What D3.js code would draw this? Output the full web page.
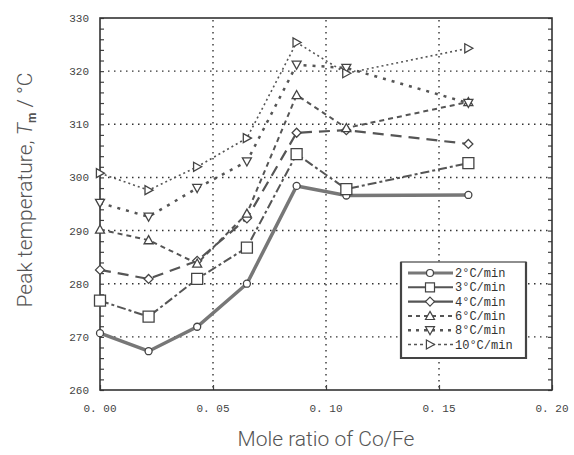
<!DOCTYPE html>
<html>
<head>
<meta charset="utf-8">
<script src="https://cdn.jsdelivr.net/npm/d3@7"></script>
<style>
  body { margin: 0; background: #fff; }
  .tick-label { font-family: 'Liberation Mono', 'DejaVu Sans Mono', monospace; font-size: 11px; fill: #444; }
  .axis-title { font-family: Roboto, 'Liberation Sans', Arial, sans-serif; font-weight: 300; font-size: 21px; fill: #555; }
  .legend-label { font-family: 'Liberation Mono', 'DejaVu Sans Mono', monospace; font-size: 12px; fill: #333; }
</style>
</head>
<body>
<script>
/* global d3 */

let moleRatios = [0, 0.0215, 0.043, 0.065, 0.087, 0.109, 0.163]
let seriesNames = ['2°C/min', '3°C/min', '4°C/min', '6°C/min', '8°C/min', '10°C/min']
let temps2 = [270.7, 267.3, 271.9, 280.0, 298.4, 296.6, 296.7]
let temps3 = [276.8, 273.8, 280.9, 286.8, 304.4, 297.8, 302.7]
let temps4 = [282.6, 280.9, 284.3, 292.3, 308.4, 308.9, 306.3]
let temps6 = [290.2, 288.2, 283.8, 293.2, 315.5, 309.3, 314.2]
let temps8 = [295.2, 292.6, 298.0, 303.0, 321.2, 320.6, 314.0]
let temps10 = [300.8, 297.6, 302.0, 307.4, 325.4, 319.6, 324.3]
let xTicks = [0, 0.05, 0.10, 0.15, 0.20]
let yTicks = [260, 270, 280, 290, 300, 310, 320, 330]

let seriesTemps = [temps2, temps3, temps4, temps6, temps8, temps10]

// drawing style per series (kept apart from the data)
let styles = [
  {marker: 'circle', dash: null, width: 3.5, color: '#777', size: 3.5, legendDash: null},
  {marker: 'square', dash: '9,3,3,3', width: 2, color: '#555', size: 5.5, legendDash: null},
  {marker: 'diamond', dash: '11,7', width: 2.2, color: '#555', size: 4.5, legendDash: null},
  {marker: 'up', dash: '5,4', width: 2, color: '#555', size: 4.5, legendDash: '4,4'},
  {marker: 'down', dash: '3,6', width: 2.5, color: '#555', size: 4.5, legendDash: '3,5'},
  {marker: 'right', dash: '2,3', width: 1.6, color: '#555', size: 4.5, legendDash: '3,3'},
]

let width = 574
let height = 455
let plot = {left: 100, right: 552, top: 18, bottom: 390}

let svg = d3.select('body').append('svg')
  .attr('width', width)
  .attr('height', height)

let x = d3.scaleLinear().domain([0, 0.20]).range([plot.left, plot.right])
let y = d3.scaleLinear().domain([260, 330]).range([plot.bottom, plot.top])

// dotted grid
let grid = svg.append('g').attr('class', 'grid')
grid.selectAll('line.h').data(yTicks.slice(1, -1)).enter()
  .append('line')
  .attr('x1', plot.left + 8).attr('x2', plot.right - 2)
  .attr('y1', d => y(d)).attr('y2', d => y(d))
  .attr('stroke', '#333').attr('stroke-width', 1.4)
  .attr('stroke-dasharray', '1.5,4.5')
grid.selectAll('line.v').data(xTicks.slice(1, -1)).enter()
  .append('line')
  .attr('x1', d => x(d)).attr('x2', d => x(d))
  .attr('y1', plot.top + 2).attr('y2', plot.bottom - 2)
  .attr('stroke', '#333').attr('stroke-width', 1.4)
  .attr('stroke-dasharray', '1.5,4.5')

// axes: left and right with inward minor ticks, bottom with inward major ticks
let minor = d3.range(260, 331, 2)
let leftAxis = d3.axisLeft(y).tickValues(minor).tickSize(-4).tickFormat('')
let rightAxis = d3.axisRight(y).tickValues(minor).tickSize(-4).tickFormat('')
let bottomAxis = d3.axisBottom(x).tickValues(xTicks).tickSize(-5).tickFormat('')
svg.append('g').attr('transform', `translate(${plot.left},0)`).call(leftAxis)
svg.append('g').attr('transform', `translate(${plot.right},0)`).call(rightAxis)
svg.append('g').attr('transform', `translate(0,${plot.bottom})`).call(bottomAxis)
svg.selectAll('.domain').remove()
svg.selectAll('.tick line').attr('stroke', '#444').attr('stroke-width', 1.2)

svg.append('rect')
  .attr('x', plot.left).attr('y', plot.top)
  .attr('width', plot.right - plot.left).attr('height', plot.bottom - plot.top)
  .attr('fill', 'none').attr('stroke', '#333').attr('stroke-width', 1.6)

// tick labels
svg.append('g').selectAll('text').data(yTicks).enter()
  .append('text')
  .attr('class', 'tick-label')
  .attr('x', plot.left - 11).attr('y', d => y(d) + 4)
  .attr('text-anchor', 'end')
  .text(d => d)
svg.append('g').selectAll('text').data(xTicks).enter()
  .append('text')
  .attr('class', 'tick-label')
  .attr('x', d => x(d)).attr('y', plot.bottom + 22)
  .attr('text-anchor', 'middle')
  .text(d => d3.format('.2f')(d).replace('.', '. '))

// axis titles
svg.append('text')
  .attr('class', 'axis-title')
  .attr('x', 326).attr('y', 446)
  .attr('text-anchor', 'middle')
  .text('Mole ratio of Co/Fe')
let yTitle = svg.append('text')
  .attr('class', 'axis-title')
  .attr('transform', 'translate(32,190) rotate(-90)')
  .attr('text-anchor', 'middle')
yTitle.append('tspan').text('Peak temperature, ')
yTitle.append('tspan').attr('font-style', 'italic').text('T')
yTitle.append('tspan').attr('font-size', '12px').attr('dy', 4).attr('font-weight', 'bold').text('m')
yTitle.append('tspan').attr('dy', -4).text(' / °C')

function markerPath (type, s) {
  if (type === 'circle') return d3.symbol(d3.symbolCircle, Math.PI * s * s)()
  if (type === 'square') return `M${-s},${-s}H${s}V${s}H${-s}Z`
  if (type === 'diamond') return `M0,${-s}L${s},0L0,${s}L${-s},0Z`
  if (type === 'up') return `M0,${-s}L${s},${s * 0.8}L${-s},${s * 0.8}Z`
  if (type === 'down') return `M0,${s}L${s},${-s * 0.8}L${-s},${-s * 0.8}Z`
  return `M${s},0L${-s * 0.8},${s}L${-s * 0.8},${-s}Z`
}

let line = d3.line().x(d => x(d.ratio)).y(d => y(d.temp))

seriesTemps.forEach((temps, i) => {
  let st = styles[i]
  let pts = moleRatios.map((r, j) => ({ratio: r, temp: temps[j]}))
  let g = svg.append('g').attr('class', 'series')
  g.append('path')
    .datum(pts)
    .attr('d', line)
    .attr('fill', 'none')
    .attr('stroke', st.color)
    .attr('stroke-width', st.width)
    .attr('stroke-dasharray', st.dash)
  g.selectAll('path.m').data(pts).enter()
    .append('path')
    .attr('d', markerPath(st.marker, st.size))
    .attr('transform', d => `translate(${x(d.ratio)},${y(d.temp)})`)
    .attr('fill', '#fff')
    .attr('stroke', '#444')
    .attr('stroke-width', 1.3)
})

// legend
let legend = svg.append('g').attr('class', 'legend')
legend.append('rect')
  .attr('x', 401).attr('y', 262).attr('width', 125).attr('height', 96)
  .attr('fill', '#fff').attr('stroke', '#444').attr('stroke-width', 1.2)
legend.append('path')
  .attr('d', 'M401,262V358H526V262')
  .attr('fill', 'none').attr('stroke', '#444').attr('stroke-width', 2.2)

seriesNames.forEach((name, i) => {
  let st = styles[i]
  let ly = 273 + i * 14.3
  legend.append('line')
    .attr('x1', 408).attr('x2', 453).attr('y1', ly).attr('y2', ly)
    .attr('stroke', st.color).attr('stroke-width', Math.min(st.width, 3))
    .attr('stroke-dasharray', st.legendDash)
  legend.append('path')
    .attr('d', markerPath(st.marker, Math.min(st.size, 4.5)))
    .attr('transform', `translate(430,${ly})`)
    .attr('fill', '#fff').attr('stroke', '#444').attr('stroke-width', 1.2)
  legend.append('text')
    .attr('class', 'legend-label')
    .attr('x', 455).attr('y', ly + 4)
    .text(name)
})
</script>
</body>
</html>
